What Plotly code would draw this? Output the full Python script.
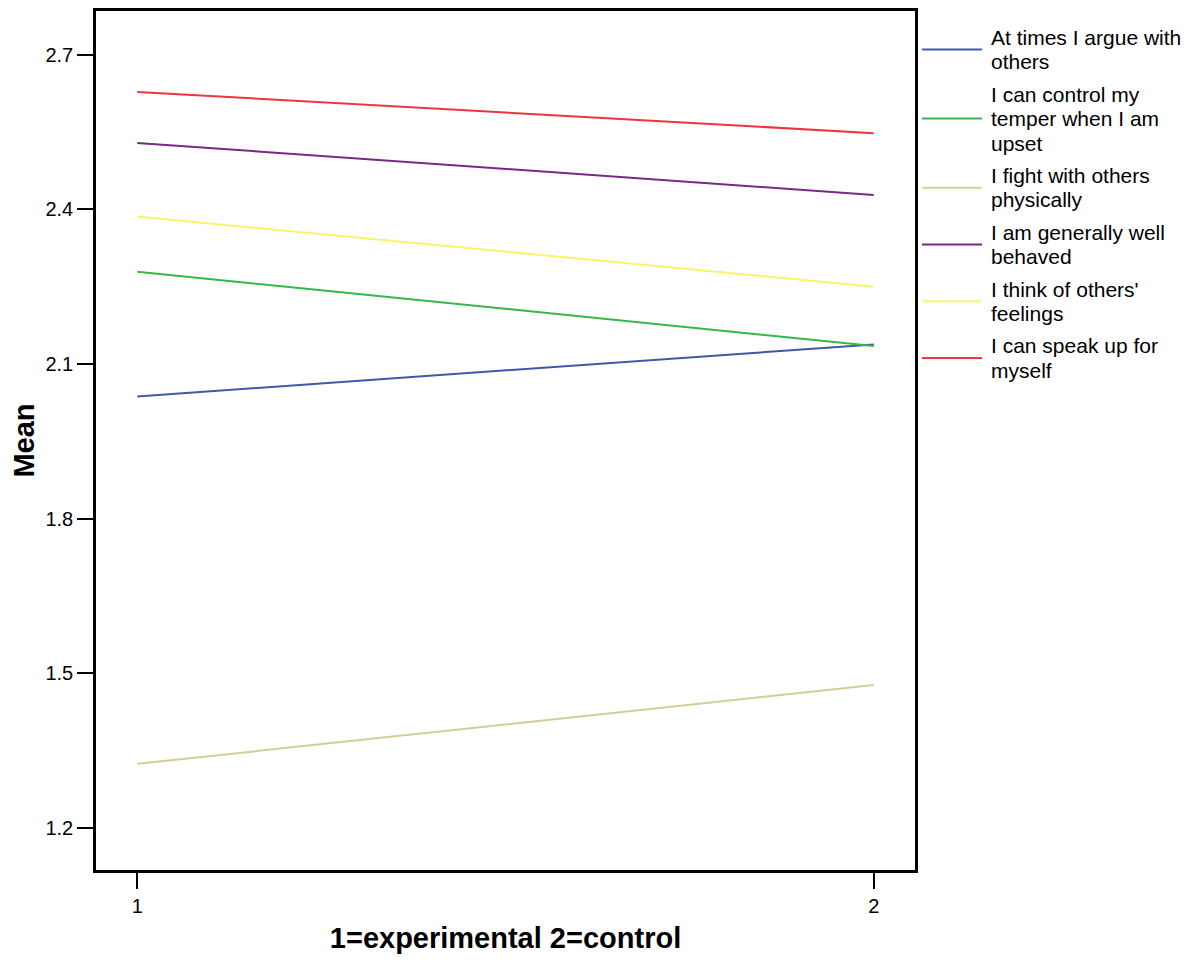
import plotly.graph_objects as go

# ---- data ----
groups = [1, 2]
series_names = [
    "At times I argue with others",
    "I can control my temper when I am upset",
    "I fight with others physically",
    "I am generally well behaved",
    "I think of others' feelings",
    "I can speak up for myself",
]
legend_lines = [
    ["At times I argue with", "others"],
    ["I can control my", "temper when I am", "upset"],
    ["I fight with others", "physically"],
    ["I am generally well", "behaved"],
    ["I think of others'", "feelings"],
    ["I can speak up for", "myself"],
]
argue = [2.037, 2.138]
temper = [2.279, 2.135]
fight = [1.324, 1.477]
behaved = [2.529, 2.428]
feelings = [2.386, 2.250]
speak = [2.628, 2.548]
series_values = [argue, temper, fight, behaved, feelings, speak]
colors = ["#3f58a9", "#34b84a", "#d3ce97", "#772a82", "#f8f56a", "#f0343f"]
y_ticks = [1.2, 1.5, 1.8, 2.1, 2.4, 2.7]
x_ticks = [1, 2]

# ---- layout geometry (page has an 8px body margin) ----
OFF = 8
W, H = 1199 - OFF, 960 - OFF
PL, PR, PT, PB = 96, 915, 8, 870          # plot box in page pixels
ML, MR, MT, MB = PL - OFF, W - (PR - OFF), PT - OFF, H - (PB - OFF)
PW, PH = W - ML - MR, H - MT - MB
FONT = "Liberation Sans, Arial, Helvetica, sans-serif"

def px_x(px):
    return (px - OFF - ML) / PW

def px_y(py):
    return (H - MB - (py - OFF)) / PH

fig = go.Figure()
for name, vals, col in zip(series_names, series_values, colors):
    fig.add_trace(go.Scatter(x=groups, y=vals, mode="lines", name=name,
                             line=dict(color=col, width=2), showlegend=False))

# ---- manual legend (long swatches like the original) ----
line_h = 24.6
gap = 7.8
center = 46.7
shapes = []
annotations = []
prev_n = None
for lines, col in zip(legend_lines, colors):
    n = len(lines)
    if prev_n is not None:
        center += (prev_n + n) / 2 * line_h + gap
    prev_n = n
    shapes.append(dict(type="line", xref="paper", yref="paper",
                       x0=px_x(922), x1=px_x(982), y0=px_y(center), y1=px_y(center),
                       line=dict(color=col, width=2)))
    for k, txt in enumerate(lines):
        yk = center + (k - (n - 1) / 2) * line_h
        annotations.append(dict(xref="paper", yref="paper", x=px_x(989), y=px_y(yk),
                                xanchor="left", yanchor="middle", align="left",
                                showarrow=False, text=txt,
                                font=dict(family=FONT, size=21, color="black")))

fig.update_layout(
    width=W, height=H,
    margin=dict(l=ML, r=MR, t=MT, b=MB),
    paper_bgcolor="white", plot_bgcolor="white",
    font=dict(family=FONT, color="black"),
    showlegend=False,
    shapes=shapes,
    annotations=annotations,
    xaxis=dict(
        range=[0.944, 2.056], tickvals=x_ticks, ticktext=[str(v) for v in x_ticks],
        showgrid=False, zeroline=False, showline=True, linecolor="black", linewidth=2.5,
        mirror=True, ticks="outside", ticklen=16, tickwidth=2, tickcolor="black",
        tickfont=dict(size=20, family=FONT),
        title=dict(text="<b>1=experimental 2=control</b>", font=dict(size=29, family=FONT), standoff=12),
    ),
    yaxis=dict(
        range=[1.118, 2.785], tickvals=y_ticks, ticktext=[f"{v:.1f}" for v in y_ticks],
        showgrid=False, zeroline=False, showline=True, linecolor="black", linewidth=2.5,
        mirror=True, ticks="outside", ticklen=16, tickwidth=2, tickcolor="black",
        tickfont=dict(size=20, family=FONT),
        title=dict(text="<b>Mean</b>", font=dict(size=29, family=FONT), standoff=10),
    ),
)

fig.write_html("out.html")
